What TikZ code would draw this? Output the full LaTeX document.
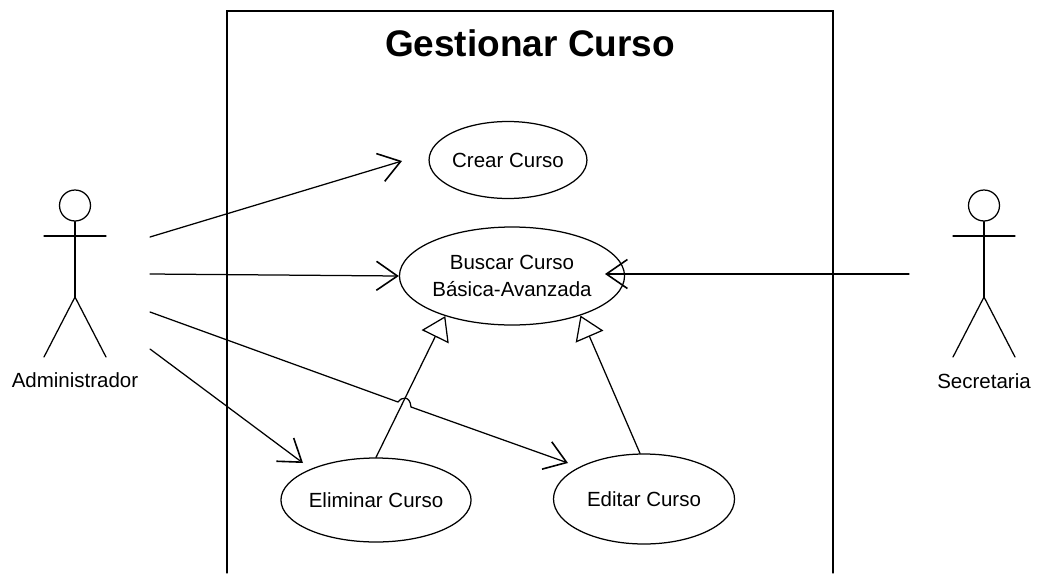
\documentclass[tikz,border=0pt]{standalone}
\usepackage{fontspec}
\setmainfont{Liberation Sans}
\usetikzlibrary{arrows.meta,shapes.geometric}
\tikzset{
  line/.style={draw=black,line width=1.25pt,line cap=round},
  usecase/.style={ellipse,draw=black,line width=1.25pt,inner sep=0pt,align=center,font=\fontsize{20.5}{27}\selectfont},
  label/.style={inner sep=0pt,font=\fontsize{20.5}{25}\selectfont},
  head/.style={circle,draw=black,line width=1.25pt,inner sep=0pt,minimum size=31pt},
  assoc/.style={line,-{Straight Barb[length=21pt,width=29pt,line width=1.6pt]}},
  gen/.style={line,-{Triangle[open,length=23pt,width=30pt,line width=1.25pt,fill=white]}}
}
\begin{document}
\begin{tikzpicture}[x=1pt,y=-1pt]
\useasboundingbox (0,0) rectangle (1038,573);
\fill[white] (0,0) rectangle (1038,573);
\draw[line] (227,573) -- (227,11) -- (833,11) -- (833,573);
\node[inner sep=0pt,font=\bfseries\fontsize{37}{44}\selectfont] (title) at (530,43) {Gestionar Curso};

\node[usecase,minimum width=155pt,minimum height=77pt] (crear) at (508,160) {Crear Curso};
\node[usecase,minimum width=196pt,minimum height=98pt] (buscar) at (512,276) {Buscar Curso\\Básica-Avanzada};
\node[usecase,minimum width=171pt,minimum height=84pt] (eliminar) at (376,500) {Eliminar Curso};
\node[usecase,minimum width=181pt,minimum height=90pt] (editar) at (644,499) {Editar Curso};

% Administrador
\node[head] (headA) at (75,205.5) {};
\coordinate (hipA) at (75,297);
\coordinate (armAl) at (44,236);
\coordinate (armAr) at (106,236);
\coordinate (footAl) at (44,357);
\coordinate (footAr) at (106,357);
\draw[line] (headA.south) -- (hipA);
\draw[line] (armAl) -- (armAr);
\draw[line] (footAl) -- (hipA) -- (footAr);
\node[label] (admin) at (75,380) {Administrador};

% Secretaria
\node[head] (headS) at (984,205.5) {};
\coordinate (hipS) at (984,297);
\coordinate (armSl) at (953,236);
\coordinate (armSr) at (1015,236);
\coordinate (footSl) at (953,357);
\coordinate (footSr) at (1015,357);
\draw[line] (headS.south) -- (hipS);
\draw[line] (armSl) -- (armSr);
\draw[line] (footSl) -- (hipS) -- (footSr);
\node[label] (secre) at (984,381) {Secretaria};

% association ends
\coordinate (a1) at (150,237);
\coordinate (a2) at (150,274);
\coordinate (a3) at (150,312);
\coordinate (a4) at (150,349);
\coordinate (s1) at (909,274);
\coordinate (crearEnd) at (402,161);
\coordinate (buscarE) at (605,274);
\coordinate (editarEnd) at (568,463);
\coordinate (eliminarEnd) at (303,463);
\coordinate (jumpA) at (398,402);
\coordinate (jumpB) at (411,407);

\draw[assoc] (a1) -- (crearEnd);
\draw[assoc] (a2) -- (buscar.west);
\draw[assoc] (a3) -- (jumpA) .. controls (401,397) and (410,395) .. (jumpB) -- (editarEnd);
\draw[assoc] (a4) -- (eliminarEnd);
\draw[assoc] (s1) -- (buscarE);

\draw[gen] (eliminar.north) -- (buscar.211);
\draw[gen] (editar.95) -- (buscar.-30);
\end{tikzpicture}
\end{document}
